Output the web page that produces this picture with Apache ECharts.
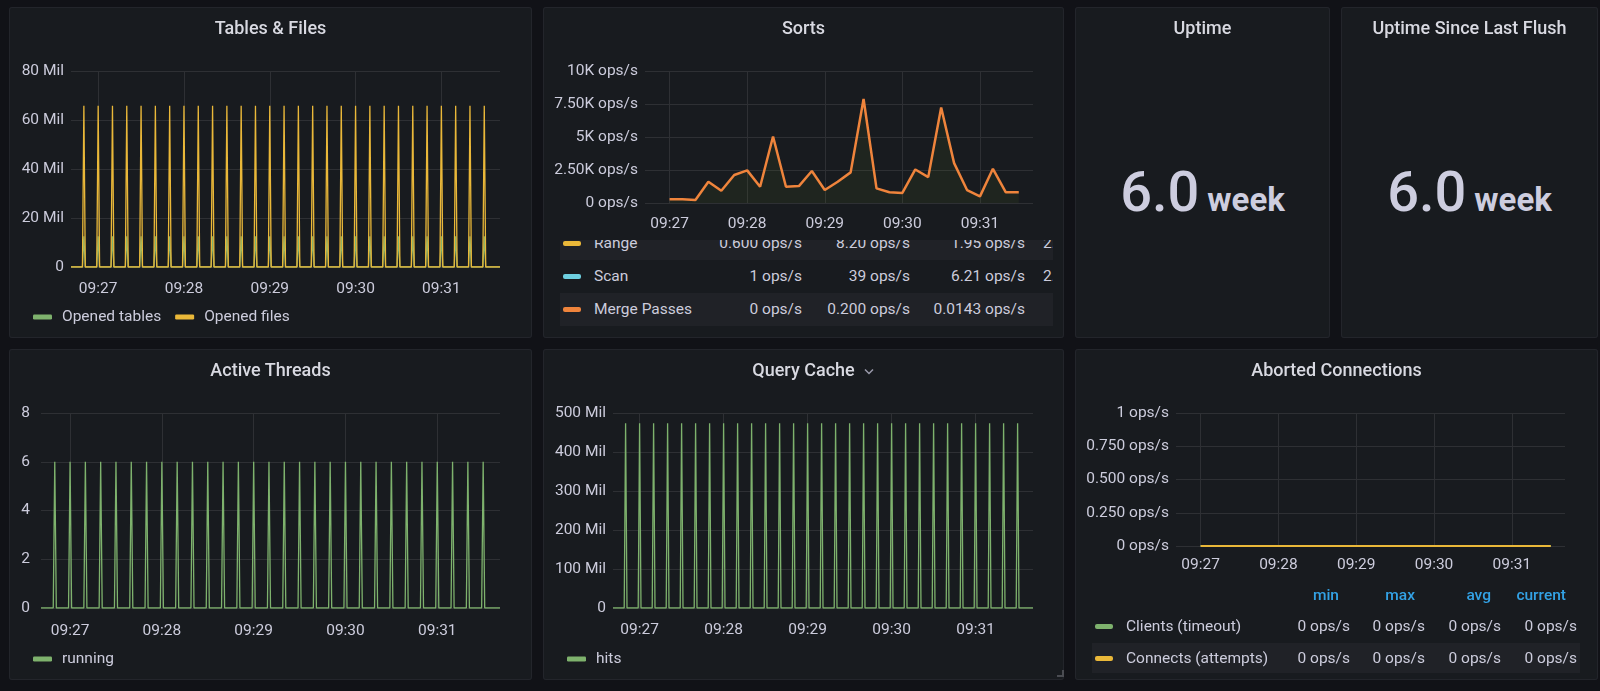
<!DOCTYPE html>
<html>
<head>
<meta charset="utf-8">
<title>MySQL Overview</title>
<script src="https://cdn.jsdelivr.net/npm/echarts@6/dist/echarts.min.js"></script>
<style>
    html, body {
        margin: 0;
        padding: 0;
        width: 1600px;
        height: 691px;
        overflow: hidden;
        background: #111217;
        font-family: Roboto, 'Noto Sans', sans-serif;
        color: #ccccdc;
    }
    .panel {
        position: absolute;
        background: #181b1f;
        box-shadow: inset 0 0 0 1px #23252b;
        border-radius: 3px;
        overflow: hidden;
    }
    .panel-title {
        position: absolute;
        left: 0;
        right: 0;
        top: 11px;
        height: 20px;
        line-height: 20px;
        text-align: center;
        font-size: 18px;
        font-weight: 500;
        color: #d8d9e1;
        z-index: 2;
    }
    .chart {
        position: absolute;
        left: 0;
        top: 0;
    }
    .stat {
        position: absolute;
        left: 0;
        right: 0;
        top: 157px;
        text-align: center;
        white-space: nowrap;
        color: #cdcddf;
        font-weight: 500;
    }
    .stat .v { font-size: 56px; line-height: 56px; }
    .stat .u { font-size: 33px; font-weight: 700; margin-left: 4px; }
    .ltable {
        position: absolute;
        overflow: hidden;
        font-size: 15.5px;
    }
    .lrow {
        position: absolute;
        left: 0;
        right: 0;
    }
    .lrow.alt { background: #202227; }
    .lrow span { position: absolute; white-space: nowrap; }
    .lrow .ico { width: 18px; height: 5px; border-radius: 2px; }
    .lhead span { color: #33a2e5; font-weight: 500; }
    .chev {
        position: absolute;
        left: 321px;
        top: 19px;
    }
    .grip {
        position: absolute;
        left: 514px;
        top: 321px;
        width: 5px;
        height: 5px;
        border-right: 2px solid #4a4c52;
        border-bottom: 2px solid #4a4c52;
    }
</style>
</head>
<body>

<div class="panel" style="left:9px;top:7px;width:523px;height:331px">
    <div class="panel-title">Tables &amp; Files</div>
    <div class="chart" id="chart-tables" style="width:523px;height:331px"></div>
</div>

<div class="panel" style="left:543px;top:7px;width:521px;height:331px">
    <div class="panel-title">Sorts</div>
    <div class="chart" id="chart-sorts" style="width:521px;height:233px"></div>
    <div class="ltable" id="legend-sorts" style="left:17px;top:233px;width:493px;height:88px"></div>
</div>

<div class="panel" style="left:1075px;top:7px;width:255px;height:331px">
    <div class="panel-title">Uptime</div>
    <div class="stat"><span class="v" id="uptime-v"></span> <span class="u" id="uptime-u"></span></div>
</div>

<div class="panel" style="left:1341px;top:7px;width:257px;height:331px">
    <div class="panel-title">Uptime Since Last Flush</div>
    <div class="stat"><span class="v" id="flush-v"></span> <span class="u" id="flush-u"></span></div>
</div>

<div class="panel" style="left:9px;top:349px;width:523px;height:331px">
    <div class="panel-title">Active Threads</div>
    <div class="chart" id="chart-threads" style="width:523px;height:331px"></div>
</div>

<div class="panel" style="left:543px;top:349px;width:521px;height:331px">
    <div class="panel-title">Query Cache</div>
    <svg class="chev" width="10" height="7" viewBox="0 0 10 7"><polyline points="1,1.5 5,5.5 9,1.5" fill="none" stroke="#9a9aab" stroke-width="1.5"/></svg>
    <div class="chart" id="chart-cache" style="width:521px;height:331px"></div>
    <div class="grip"></div>
</div>

<div class="panel" style="left:1075px;top:349px;width:523px;height:331px">
    <div class="panel-title">Aborted Connections</div>
    <div class="chart" id="chart-aborted" style="width:523px;height:240px"></div>
    <div class="ltable" id="legend-aborted" style="left:17px;top:228px;width:488px;height:100px"></div>
</div>

<script>
// time window shown on every graph (last 5 minutes)
var windowStart = '09:26:41';
var windowEnd = '09:31:41';
var timeTicks = ['09:27', '09:28', '09:29', '09:30', '09:31'];

// the periodic spikes (every 10 s)
var spikeTimes = ['09:26:50', '09:27:00', '09:27:10', '09:27:20', '09:27:30', '09:27:40', '09:27:50',
    '09:28:00', '09:28:10', '09:28:20', '09:28:30', '09:28:40', '09:28:50',
    '09:29:00', '09:29:10', '09:29:20', '09:29:30', '09:29:40', '09:29:50',
    '09:30:00', '09:30:10', '09:30:20', '09:30:30', '09:30:40', '09:30:50',
    '09:31:00', '09:31:10', '09:31:20', '09:31:30'];

// Tables & Files (Mil)
var openedTables = [12.5, 12.5, 12.5, 12.5, 12.5, 12.5, 12.5, 12.5, 12.5, 12.5, 12.5, 12.5, 12.5, 12.5, 12.5,
    12.5, 12.5, 12.5, 12.5, 12.5, 12.5, 12.5, 12.5, 12.5, 12.5, 12.5, 12.5, 12.5, 12.5];
var openedFiles = [65.8, 65.8, 65.8, 65.8, 65.8, 65.8, 65.8, 65.8, 65.8, 65.8, 65.8, 65.8, 65.8, 65.8, 65.8,
    65.8, 65.8, 65.8, 65.8, 65.8, 65.8, 65.8, 65.8, 65.8, 65.8, 65.8, 65.8, 65.8, 65.8];
var tablesTicks = ['0', '20 Mil', '40 Mil', '60 Mil', '80 Mil'];

// Active Threads
var running = [6, 6, 6, 6, 6, 6, 6, 6, 6, 6, 6, 6, 6, 6, 6, 6, 6, 6, 6, 6, 6, 6, 6, 6, 6, 6, 6, 6, 6];
var threadTicks = ['0', '2', '4', '6', '8'];

// Query Cache (Mil)
var hits = [474, 474, 474, 474, 474, 474, 474, 474, 474, 474, 474, 474, 474, 474, 474,
    474, 474, 474, 474, 474, 474, 474, 474, 474, 474, 474, 474, 474, 474];
var cacheTicks = ['0', '100 Mil', '200 Mil', '300 Mil', '400 Mil', '500 Mil'];

// Sorts / Aborted: one sample every 10 s
var sampleTimes = ['09:27:00', '09:27:10', '09:27:20', '09:27:30', '09:27:40', '09:27:50',
    '09:28:00', '09:28:10', '09:28:20', '09:28:30', '09:28:40', '09:28:50',
    '09:29:00', '09:29:10', '09:29:20', '09:29:30', '09:29:40', '09:29:50',
    '09:30:00', '09:30:10', '09:30:20', '09:30:30', '09:30:40', '09:30:50',
    '09:31:00', '09:31:10', '09:31:20', '09:31:30'];
var sortRows = [280, 280, 230, 1610, 930, 2120, 2470, 1230, 5040, 1230, 1280, 2420, 980, 1610,
    2320, 7880, 1110, 810, 760, 2540, 1960, 7230, 3020, 980, 500, 2590, 810, 810];
var sortsTicks = ['0 ops/s', '2.50K ops/s', '5K ops/s', '7.50K ops/s', '10K ops/s'];

var clientsTimeout = [0, 0, 0, 0, 0, 0, 0, 0, 0, 0, 0, 0, 0, 0, 0, 0, 0, 0, 0, 0, 0, 0, 0, 0, 0, 0, 0, 0];
var connectsAttempts = [0, 0, 0, 0, 0, 0, 0, 0, 0, 0, 0, 0, 0, 0, 0, 0, 0, 0, 0, 0, 0, 0, 0, 0, 0, 0, 0, 0];
var abortedTicks = ['0 ops/s', '0.250 ops/s', '0.500 ops/s', '0.750 ops/s', '1 ops/s'];

// legend tables
var sortsLegendNames = ['Range', 'Scan', 'Merge Passes'];
var sortsLegendColors = ['#EAB839', '#6ED0E0', '#EF843C'];
var sortsMin = ['0.600 ops/s', '1 ops/s', '0 ops/s'];
var sortsMax = ['8.20 ops/s', '39 ops/s', '0.200 ops/s'];
var sortsAvg = ['1.95 ops/s', '6.21 ops/s', '0.0143 ops/s'];
var sortsCurrent = ['2.20 ops/s', '2.00 ops/s', '0 ops/s'];

var abortedNames = ['Clients (timeout)', 'Connects (attempts)'];
var abortedColors = ['#7EB26D', '#EAB839'];
var abortedHeads = ['min', 'max', 'avg', 'current'];
var abortedStats = [
    ['0 ops/s', '0 ops/s', '0 ops/s', '0 ops/s'],
    ['0 ops/s', '0 ops/s', '0 ops/s', '0 ops/s']
];

// stat panels
var uptimeValue = '6.0';
var uptimeUnit = 'week';
var flushValue = '6.0';
var flushUnit = 'week';

var GREEN = '#7EB26D', YELLOW = '#EAB839', ORANGE = '#EF843C';
var TEXT = '#ccccdc', GRID = '#2e3034';
var FONT = 'Roboto, sans-serif';

function toSec(t) {
    var p = t.split(':');
    return (+p[0]) * 3600 + (+p[1]) * 60 + (p.length > 2 ? +p[2] : 0);
}

function spikeData(peaks) {
    var pts = [[toSec(windowStart), 0]];
    spikeTimes.forEach(function (t, i) {
        var s = toSec(t);
        pts.push([s - 1, 0], [s, peaks[i]], [s + 1, 0]);
    });
    pts.push([toSec(windowEnd), 0]);
    return pts;
}

function sampleData(vals) {
    return sampleTimes.map(function (t, i) {
        return [toSec(t), vals[i]];
    });
}

function timeAxis(margin) {
    var ticks = timeTicks.map(toSec);
    return {
        type: 'value',
        min: toSec(windowStart),
        max: toSec(windowEnd),
        axisLine: {show: false},
        axisTick: {show: false, customValues: ticks},
        axisLabel: {
            customValues: ticks,
            margin: margin,
            color: TEXT,
            fontSize: 15.5,
            fontFamily: FONT,
            formatter: function (v) {
                return timeTicks[ticks.indexOf(v)];
            }
        },
        splitLine: {show: true, lineStyle: {color: GRID, width: 1}}
    };
}

function valueAxis(max, interval, labels, margin) {
    return {
        type: 'value',
        min: 0,
        max: max,
        interval: interval,
        axisLine: {show: false},
        axisTick: {show: false},
        axisLabel: {
            margin: margin,
            color: TEXT,
            fontSize: 15.5,
            fontFamily: FONT,
            formatter: function (v) {
                return labels[Math.round(v / interval)];
            }
        },
        splitLine: {show: true, lineStyle: {color: GRID, width: 1}}
    };
}

function lineSeries(name, color, data, width) {
    return {
        name: name,
        type: 'line',
        data: data,
        showSymbol: false,
        symbol: 'none',
        color: color,
        lineStyle: {color: color, width: width},
        itemStyle: {color: color}
    };
}

function legendOpt(names) {
    return {
        left: 24,
        top: 302,
        padding: 0,
        data: names,
        icon: 'roundRect',
        itemWidth: 19,
        itemHeight: 5,
        itemGap: 14,
        selectedMode: false,
        textStyle: {color: TEXT, fontSize: 15.5, fontFamily: FONT, padding: [0, 0, 0, 5]}
    };
}

// Tables & Files
var tablesChart = echarts.init(document.getElementById('chart-tables'));
tablesChart.setOption({
    animation: false,
    grid: {left: 62, top: 64, width: 429, height: 196},
    xAxis: timeAxis(14),
    yAxis: valueAxis(80, 20, tablesTicks, 7),
    legend: legendOpt(['Opened tables', 'Opened files']),
    series: [
        lineSeries('Opened tables', GREEN, spikeData(openedTables), 1.3),
        lineSeries('Opened files', YELLOW, spikeData(openedFiles), 1.3)
    ]
});

// Sorts
var sortsChart = echarts.init(document.getElementById('chart-sorts'));
var rowsSeries = lineSeries('Rows', ORANGE, sampleData(sortRows), 2.5);
rowsSeries.areaStyle = {color: 'rgba(100,130,40,0.1)', opacity: 1};
sortsChart.setOption({
    animation: false,
    grid: {left: 102, top: 64, width: 388, height: 132},
    xAxis: timeAxis(13),
    yAxis: valueAxis(10000, 2500, sortsTicks, 7),
    series: [rowsSeries]
});

// Active Threads
var threadsChart = echarts.init(document.getElementById('chart-threads'));
threadsChart.setOption({
    animation: false,
    grid: {left: 32, top: 64, width: 459, height: 195},
    xAxis: timeAxis(15),
    yAxis: valueAxis(8, 2, threadTicks, 11),
    legend: legendOpt(['running']),
    series: [lineSeries('running', GREEN, spikeData(running), 1.3)]
});

// Query Cache
var cacheChart = echarts.init(document.getElementById('chart-cache'));
cacheChart.setOption({
    animation: false,
    grid: {left: 70, top: 64, width: 420, height: 195},
    xAxis: timeAxis(14),
    yAxis: valueAxis(500, 100, cacheTicks, 7),
    legend: legendOpt(['hits']),
    series: [lineSeries('hits', GREEN, spikeData(hits), 1.3)]
});

// Aborted Connections
var abortedChart = echarts.init(document.getElementById('chart-aborted'));
abortedChart.setOption({
    animation: false,
    grid: {left: 101, top: 64, width: 389, height: 133},
    xAxis: timeAxis(11),
    yAxis: valueAxis(1, 0.25, abortedTicks, 7),
    series: [
        lineSeries('Clients (timeout)', GREEN, sampleData(clientsTimeout), 2),
        lineSeries('Connects (attempts)', YELLOW, sampleData(connectsAttempts), 2)
    ]
});

// legend tables (html)
function cell(text, style) {
    return '<span style="' + style + '">' + text + '</span>';
}

var sortsHtml = '';
sortsLegendNames.forEach(function (name, i) {
    var top = -13 + i * 33;
    sortsHtml += '<div class="lrow' + (i % 2 === 0 ? ' alt' : '') + '" style="top:' + top + 'px;height:33px;line-height:33px">' +
        '<span class="ico" style="left:3px;top:14px;background:' + sortsLegendColors[i] + '"></span>' +
        cell(name, 'left:34px') +
        cell(sortsMin[i], 'right:' + (493 - 242) + 'px') +
        cell(sortsMax[i], 'right:' + (493 - 350) + 'px') +
        cell(sortsAvg[i], 'right:' + (493 - 465) + 'px') +
        cell(sortsCurrent[i], 'right:' + (493 - 557) + 'px') +
        '</div>';
});
document.getElementById('legend-sorts').innerHTML = sortsHtml;

var headRights = [247, 323, 399, 474];
var valRights = [258, 333, 409, 485];
var abHtml = '<div class="lrow lhead" style="top:8px;height:20px;line-height:20px">';
abortedHeads.forEach(function (h, j) {
    abHtml += cell(h, 'right:' + (488 - headRights[j]) + 'px');
});
abHtml += '</div>';
abortedNames.forEach(function (name, i) {
    var top = 34 + i * 32;
    abHtml += '<div class="lrow' + (i % 2 === 1 ? ' alt' : '') + '" style="top:' + top + 'px;height:30px;line-height:30px">' +
        '<span class="ico" style="left:3px;top:13px;background:' + abortedColors[i] + '"></span>' +
        cell(name, 'left:34px');
    abortedStats[i].forEach(function (v, j) {
        abHtml += cell(v, 'right:' + (488 - valRights[j]) + 'px');
    });
    abHtml += '</div>';
});
document.getElementById('legend-aborted').innerHTML = abHtml;

// stat values
document.getElementById('uptime-v').textContent = uptimeValue;
document.getElementById('uptime-u').textContent = uptimeUnit;
document.getElementById('flush-v').textContent = flushValue;
document.getElementById('flush-u').textContent = flushUnit;
</script>
</body>
</html>
